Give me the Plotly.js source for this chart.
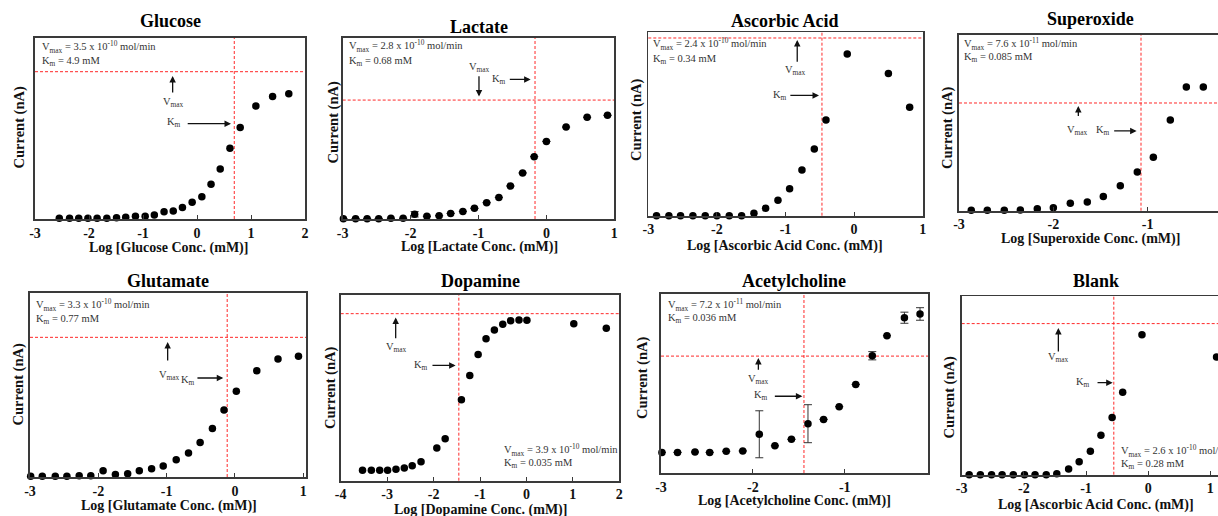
<!DOCTYPE html>
<html>
<head>
<meta charset="utf-8">
<script src="https://cdn.plot.ly/plotly-3.0.1.min.js"></script>
<style>
  html, body { margin: 0; padding: 0; overflow: hidden; background: #fff; }
  #chart { width: 1250px; height: 516px; }
</style>
</head>
<body>
<div id="chart"></div>
<script>
// ---- Measured responses: log10 concentration (mM) vs. relative current ----
const glucoseLogConc = [-2.55,-2.36,-2.19,-2.02,-1.85,-1.67,-1.49,-1.32,-1.14,-0.96,-0.79,-0.61,-0.44,-0.27,-0.09,0.09,0.26,0.43,0.61,0.80,1.09,1.40,1.70];
const glucoseCurrent = [0.004,0.004,0.004,0.004,0.004,0.004,0.007,0.009,0.015,0.015,0.022,0.040,0.044,0.063,0.092,0.123,0.191,0.276,0.390,0.504,0.623,0.676,0.691];

const lactateLogConc = [-2.99,-2.81,-2.64,-2.47,-2.29,-2.11,-1.94,-1.76,-1.58,-1.41,-1.23,-1.06,-0.88,-0.70,-0.53,-0.35,-0.18,0.00,0.29,0.60,0.90];
const lactateCurrent = [0.002,0.002,0.002,0.002,0.004,0.004,0.026,0.015,0.018,0.031,0.042,0.059,0.090,0.119,0.182,0.254,0.344,0.428,0.507,0.561,0.572];
const lactateError   = [0,0,0,0,0,0,0.015,0,0,0,0,0,0,0,0,0,0,0,0,0,0];

const ascorbicLogConc = [-2.88,-2.70,-2.53,-2.35,-2.17,-2.00,-1.82,-1.64,-1.46,-1.29,-1.11,-0.94,-0.76,-0.58,-0.41,-0.10,0.50,0.81];
const ascorbicCurrent = [0,0,0,0,0,0,0,0,0.013,0.040,0.084,0.147,0.249,0.364,0.522,0.882,0.775,0.591];

const superoxideLogConc = [-2.87,-2.70,-2.52,-2.35,-2.17,-2.00,-1.82,-1.64,-1.47,-1.29,-1.11,-0.94,-0.76,-0.59,-0.41];
const superoxideCurrent = [0.002,0.002,0.002,0.004,0.011,0.017,0.042,0.049,0.080,0.142,0.220,0.303,0.515,0.703,0.703];

const glutamateLogConc = [-2.99,-2.82,-2.63,-2.46,-2.28,-2.11,-1.93,-1.75,-1.57,-1.40,-1.22,-1.05,-0.86,-0.68,-0.51,-0.33,-0.16,0.02,0.32,0.63,0.93];
const glutamateCurrent = [0.004,0.004,0.004,0.004,0.007,0.007,0.034,0.014,0.018,0.034,0.045,0.060,0.094,0.130,0.188,0.264,0.364,0.466,0.578,0.641,0.656];

const dopamineLogConc = [-3.53,-3.34,-3.16,-2.99,-2.81,-2.63,-2.46,-2.27,-1.93,-1.75,-1.40,-1.22,-1.04,-0.87,-0.69,-0.51,-0.34,-0.16,0.01,1.02,1.72];
const dopamineCurrent = [0.056,0.056,0.056,0.056,0.061,0.068,0.081,0.102,0.176,0.226,0.435,0.566,0.679,0.763,0.810,0.841,0.860,0.864,0.862,0.844,0.819];

const acetylcholineLogConc = [-2.99,-2.82,-2.63,-2.47,-2.29,-2.11,-1.93,-1.76,-1.58,-1.40,-1.23,-1.06,-0.88,-0.70,-0.54,-0.35,-0.18];
const acetylcholineCurrent = [0.115,0.115,0.117,0.115,0.121,0.123,0.216,0.152,0.188,0.275,0.299,0.370,0.494,0.654,0.766,0.866,0.887];
const acetylcholineError   = [0,0,0,0,0,0,0.131,0,0,0.106,0,0,0,0.023,0,0.031,0.035];

const blankLogConc = [-2.88,-2.70,-2.52,-2.35,-2.17,-1.99,-1.82,-1.64,-1.47,-1.28,-1.11,-0.93,-0.76,-0.58,-0.41,-0.10,1.10];
const blankCurrent = [0,0,0,0,0,0,0,0,0.006,0.032,0.073,0.131,0.221,0.321,0.462,0.785,0.660];

// ---- Kinetic constants (Km in mM; Vmax in mol/min) and plateau current level ----
const analyteNames = ['Glucose','Lactate','Ascorbic Acid','Superoxide','Glutamate','Dopamine','Acetylcholine','Blank'];
const axisAnalytes = ['Glucose','Lactate','Ascorbic Acid','Superoxide','Glutamate','Dopamine','Acetylcholine','Ascorbic Acid'];
const kmValues     = [4.9, 0.68, 0.34, 0.085, 0.77, 0.035, 0.036, 0.28];
const kmLabels     = ['4.9','0.68','0.34','0.085','0.77','0.035','0.036','0.28'];
const vmaxMantissa = ['3.5','2.8','2.4','7.6','3.3','3.9','7.2','2.6'];
const vmaxExponent = ['-10','-10','-10','-11','-10','-10','-11','-10'];
const vmaxCurrent  = [0.8125, 0.656, 0.969, 0.612, 0.759, 0.898, 0.652, 0.847];

// ---- Tick labels ----
const ticksFrom3To2  = [-3,-2,-1,0,1,2];
const ticksFrom3To1  = [-3,-2,-1,0,1];
const ticksFrom3To0  = [-3,-2,-1,0];
const ticksFrom4To2  = [-4,-3,-2,-1,0,1,2];
const ticksFrom3ToM1 = [-3,-2,-1];
const tickText = v => v.map(t => '<b>' + String(t) + '</b>');

// ---- Page geometry (pixels) ----
const W = 1250, H = 516;
const fx = p => p / W;
const fy = p => 1 - p / H;

const FONT = 'Liberation Serif, Times New Roman, serif';
const INK = '#111';
const BOX = '#3a3a3a';

// Per-panel layout: plot box [left,right,top,bottom], x range, title / axis-title centres,
// info block anchor (data coords) and arrow placements (data coords).
const panelLayout = [
  { box:[35,305,37.7,219],    xr:[-3,2],    ticks:ticksFrom3To2,  title:[170,20.7],   xt:[169,248],  yt:[18.5,128],
    info:{x:-2.90,y1:0.950,y2:0.866}, va:{x:-0.451,tail:0.689,head:0.789,tx:-0.43,ty:0.642}, ka:{y:0.526,tail:-0.20,head:0.63,tx:-0.43,ty:0.533} },
  { box:[342.7,614.3,37.7,219], xr:[-3,1],  ticks:ticksFrom3To1,  title:[479,26.7],   xt:[479,247],  yt:[333.5,123],
    info:{x:-2.93,y1:0.956,y2:0.871}, va:{x:-0.993,tail:0.796,head:0.675,tx:-0.98,ty:0.835}, ka:{y:0.770,tail:-0.561,head:-0.232,tx:-0.693,ty:0.767} },
  { box:[648.3,922.7,32.3,215.7], xr:[-3,1], ticks:ticksFrom3To1, title:[785,20.7],   xt:[785,246],  yt:[637,120],
    info:{x:-2.96,y1:0.935,y2:0.853}, va:{x:-0.829,tail:0.831,head:0.958,tx:-0.854,ty:0.791}, ka:{y:0.656,tail:-0.951,head:-0.512,tx:-1.083,ty:0.658} },
  { box:[959,1242,34.7,210.7], xr:[-3,0],   ticks:ticksFrom3To0, title:[1090.7,19.3], xt:[1090.7,239.3], yt:[947,128],
    info:{x:-2.965,y1:0.949,y2:0.873}, va:{x:-1.735,tail:0.530,head:0.595,tx:-1.746,ty:0.458}, ka:{y:0.453,tail:-1.371,head:-1.117,tx:-1.47,ty:0.455} },
  { box:[30,306,293,477],     xr:[-3,1.04], ticks:ticksFrom3To1,  title:[167.7,281.3], xt:[169.3,506.3], yt:[17.5,385],
    info:{x:-2.937,y1:0.933,y2:0.857}, va:{x:-0.985,tail:0.625,head:0.734,tx:-0.961,ty:0.551}, ka:{y:0.538,tail:-0.571,head:-0.171,tx:-0.693,ty:0.527} },
  { box:[340.7,619.3,294.7,480.7], xr:[-4,2], ticks:ticksFrom4To2, title:[481,281.3], xt:[480,509.7], yt:[330,388],
    info:{x:-0.535,y1:0.167,y2:0.095}, va:{x:-2.816,tail:0.758,head:0.878,tx:-2.809,ty:0.717}, ka:{y:0.620,tail:-2.056,head:-1.525,tx:-2.271,ty:0.618} },
  { box:[661,928.3,293.7,473], xr:[-3,-0.09], ticks:ticksFrom3ToM1, title:[794.3,280.7], xt:[794.3,501.3], yt:[642,378],
    info:{x:-2.949,y1:0.939,y2:0.859}, va:{x:-1.940,tail:0.567,head:0.641,tx:-1.940,ty:0.520}, ka:{y:0.428,tail:-1.777,head:-1.461,tx:-1.915,ty:0.431} },
  { box:[961.7,1235.2,296.3,474.7], xr:[-3,1.4], ticks:ticksFrom3To1, title:[1096,281.3], xt:[1096,504.7], yt:[948.5,398],
    info:{x:-0.469,y1:0.135,y2:0.056}, va:{x:-1.445,tail:0.682,head:0.822,tx:-1.445,ty:0.658}, ka:{y:0.516,tail:-0.839,head:-0.571,tx:-1.043,ty:0.518} }
];

const series = [
  { x: glucoseLogConc, y: glucoseCurrent },
  { x: lactateLogConc, y: lactateCurrent, err: lactateError },
  { x: ascorbicLogConc, y: ascorbicCurrent },
  { x: superoxideLogConc, y: superoxideCurrent },
  { x: glutamateLogConc, y: glutamateCurrent },
  { x: dopamineLogConc, y: dopamineCurrent },
  { x: acetylcholineLogConc, y: acetylcholineCurrent, err: acetylcholineError },
  { x: blankLogConc, y: blankCurrent }
];

const traces = [];
const layout = {
  width: W, height: H,
  margin: { l: 0, r: 0, t: 0, b: 0 },
  paper_bgcolor: '#fff', plot_bgcolor: '#fff',
  showlegend: false,
  font: { family: FONT, color: INK },
  shapes: [], annotations: []
};

const redLine = { color: 'rgba(255,30,30,0.95)', width: 1, dash: '3px,2px' };

series.forEach((s, i) => {
  const suffix = i === 0 ? '' : String(i + 1);
  const xa = 'x' + suffix, ya = 'y' + suffix;
  const P = panelLayout[i];
  const trace = {
    type: 'scatter', mode: 'markers', x: s.x, y: s.y, xaxis: xa, yaxis: ya,
    marker: { color: '#000', size: 7.5 }, cliponaxis: false, hoverinfo: 'x+y'
  };
  if (s.err) {
    trace.error_y = { type: 'data', array: s.err, visible: true, color: '#333', thickness: 1, width: 4 };
  }
  traces.push(trace);

  layout['xaxis' + suffix] = {
    domain: [fx(P.box[0]), fx(P.box[1])], anchor: ya, range: P.xr,
    tickvals: P.ticks, ticktext: tickText(P.ticks),
    ticks: 'inside', ticklen: 4, tickwidth: 1, tickcolor: BOX,
    showline: true, linecolor: BOX, linewidth: 1.8, mirror: true,
    showgrid: false, zeroline: false,
    tickfont: { family: FONT, size: 14, color: INK }
  };
  layout['yaxis' + suffix] = {
    domain: [fy(P.box[3]), fy(P.box[2])], anchor: xa, range: [0, 1],
    showticklabels: false, ticks: '',
    showline: true, linecolor: BOX, linewidth: 1.8, mirror: true,
    showgrid: false, zeroline: false
  };

  // Km (vertical) and Vmax (horizontal) guide lines
  const logKm = Math.log10(kmValues[i]);
  layout.shapes.push({ type: 'line', xref: xa, yref: ya + ' domain', x0: logKm, x1: logKm, y0: 0, y1: 1, line: redLine, layer: 'below' });
  layout.shapes.push({ type: 'line', xref: xa + ' domain', yref: ya, x0: 0, x1: 1, y0: vmaxCurrent[i], y1: vmaxCurrent[i], line: redLine, layer: 'below' });

  const A = layout.annotations;
  // Panel title
  A.push({ xref: 'paper', yref: 'paper', x: fx(P.title[0]), y: fy(P.title[1]), text: '<b>' + analyteNames[i] + '</b>',
           showarrow: false, xanchor: 'center', yanchor: 'middle', font: { family: FONT, size: 18, color: '#000' } });
  // Axis titles
  A.push({ xref: 'paper', yref: 'paper', x: fx(P.xt[0]), y: fy(P.xt[1]), text: '<b>Log [' + axisAnalytes[i] + ' Conc. (mM)]</b>',
           showarrow: false, xanchor: 'center', yanchor: 'middle', font: { family: FONT, size: 14, color: '#111' } });
  A.push({ xref: 'paper', yref: 'paper', x: fx(P.yt[0]), y: fy(P.yt[1]), text: '<b>Current (nA)</b>', textangle: -90,
           showarrow: false, xanchor: 'center', yanchor: 'middle', font: { family: FONT, size: 14.5, color: '#111' } });
  // Kinetic constants block
  const infoFont = { family: FONT, size: 10.5, color: '#333' };
  A.push({ xref: xa, yref: ya, x: P.info.x, y: P.info.y1, xanchor: 'left', yanchor: 'middle', showarrow: false, font: infoFont,
           text: 'V<sub>max</sub> = ' + vmaxMantissa[i] + ' x 10<sup>' + vmaxExponent[i] + '</sup> mol/min' });
  A.push({ xref: xa, yref: ya, x: P.info.x, y: P.info.y2, xanchor: 'left', yanchor: 'middle', showarrow: false, font: infoFont,
           text: 'K<sub>m</sub> = ' + kmLabels[i] + ' mM' });
  // Vmax pointer
  A.push({ xref: xa, yref: ya, axref: xa, ayref: ya, x: P.va.x, y: P.va.head, ax: P.va.x, ay: P.va.tail, text: '',
           showarrow: true, arrowhead: 2, arrowsize: 1, arrowwidth: 1.3, arrowcolor: '#111', standoff: 0, startstandoff: 0 });
  A.push({ xref: xa, yref: ya, x: P.va.tx, y: P.va.ty, text: 'V<sub>max</sub>', showarrow: false, xanchor: 'center', yanchor: 'middle', font: infoFont });
  // Km pointer
  A.push({ xref: xa, yref: ya, axref: xa, ayref: ya, x: P.ka.head, y: P.ka.y, ax: P.ka.tail, ay: P.ka.y, text: '',
           showarrow: true, arrowhead: 2, arrowsize: 1, arrowwidth: 1.3, arrowcolor: '#111', standoff: 0, startstandoff: 0 });
  A.push({ xref: xa, yref: ya, x: P.ka.tx, y: P.ka.ty, text: 'K<sub>m</sub>', showarrow: false, xanchor: 'center', yanchor: 'middle', font: infoFont });
});

Plotly.newPlot('chart', traces, layout, { displayModeBar: false, staticPlot: true });
</script>
</body>
</html>
